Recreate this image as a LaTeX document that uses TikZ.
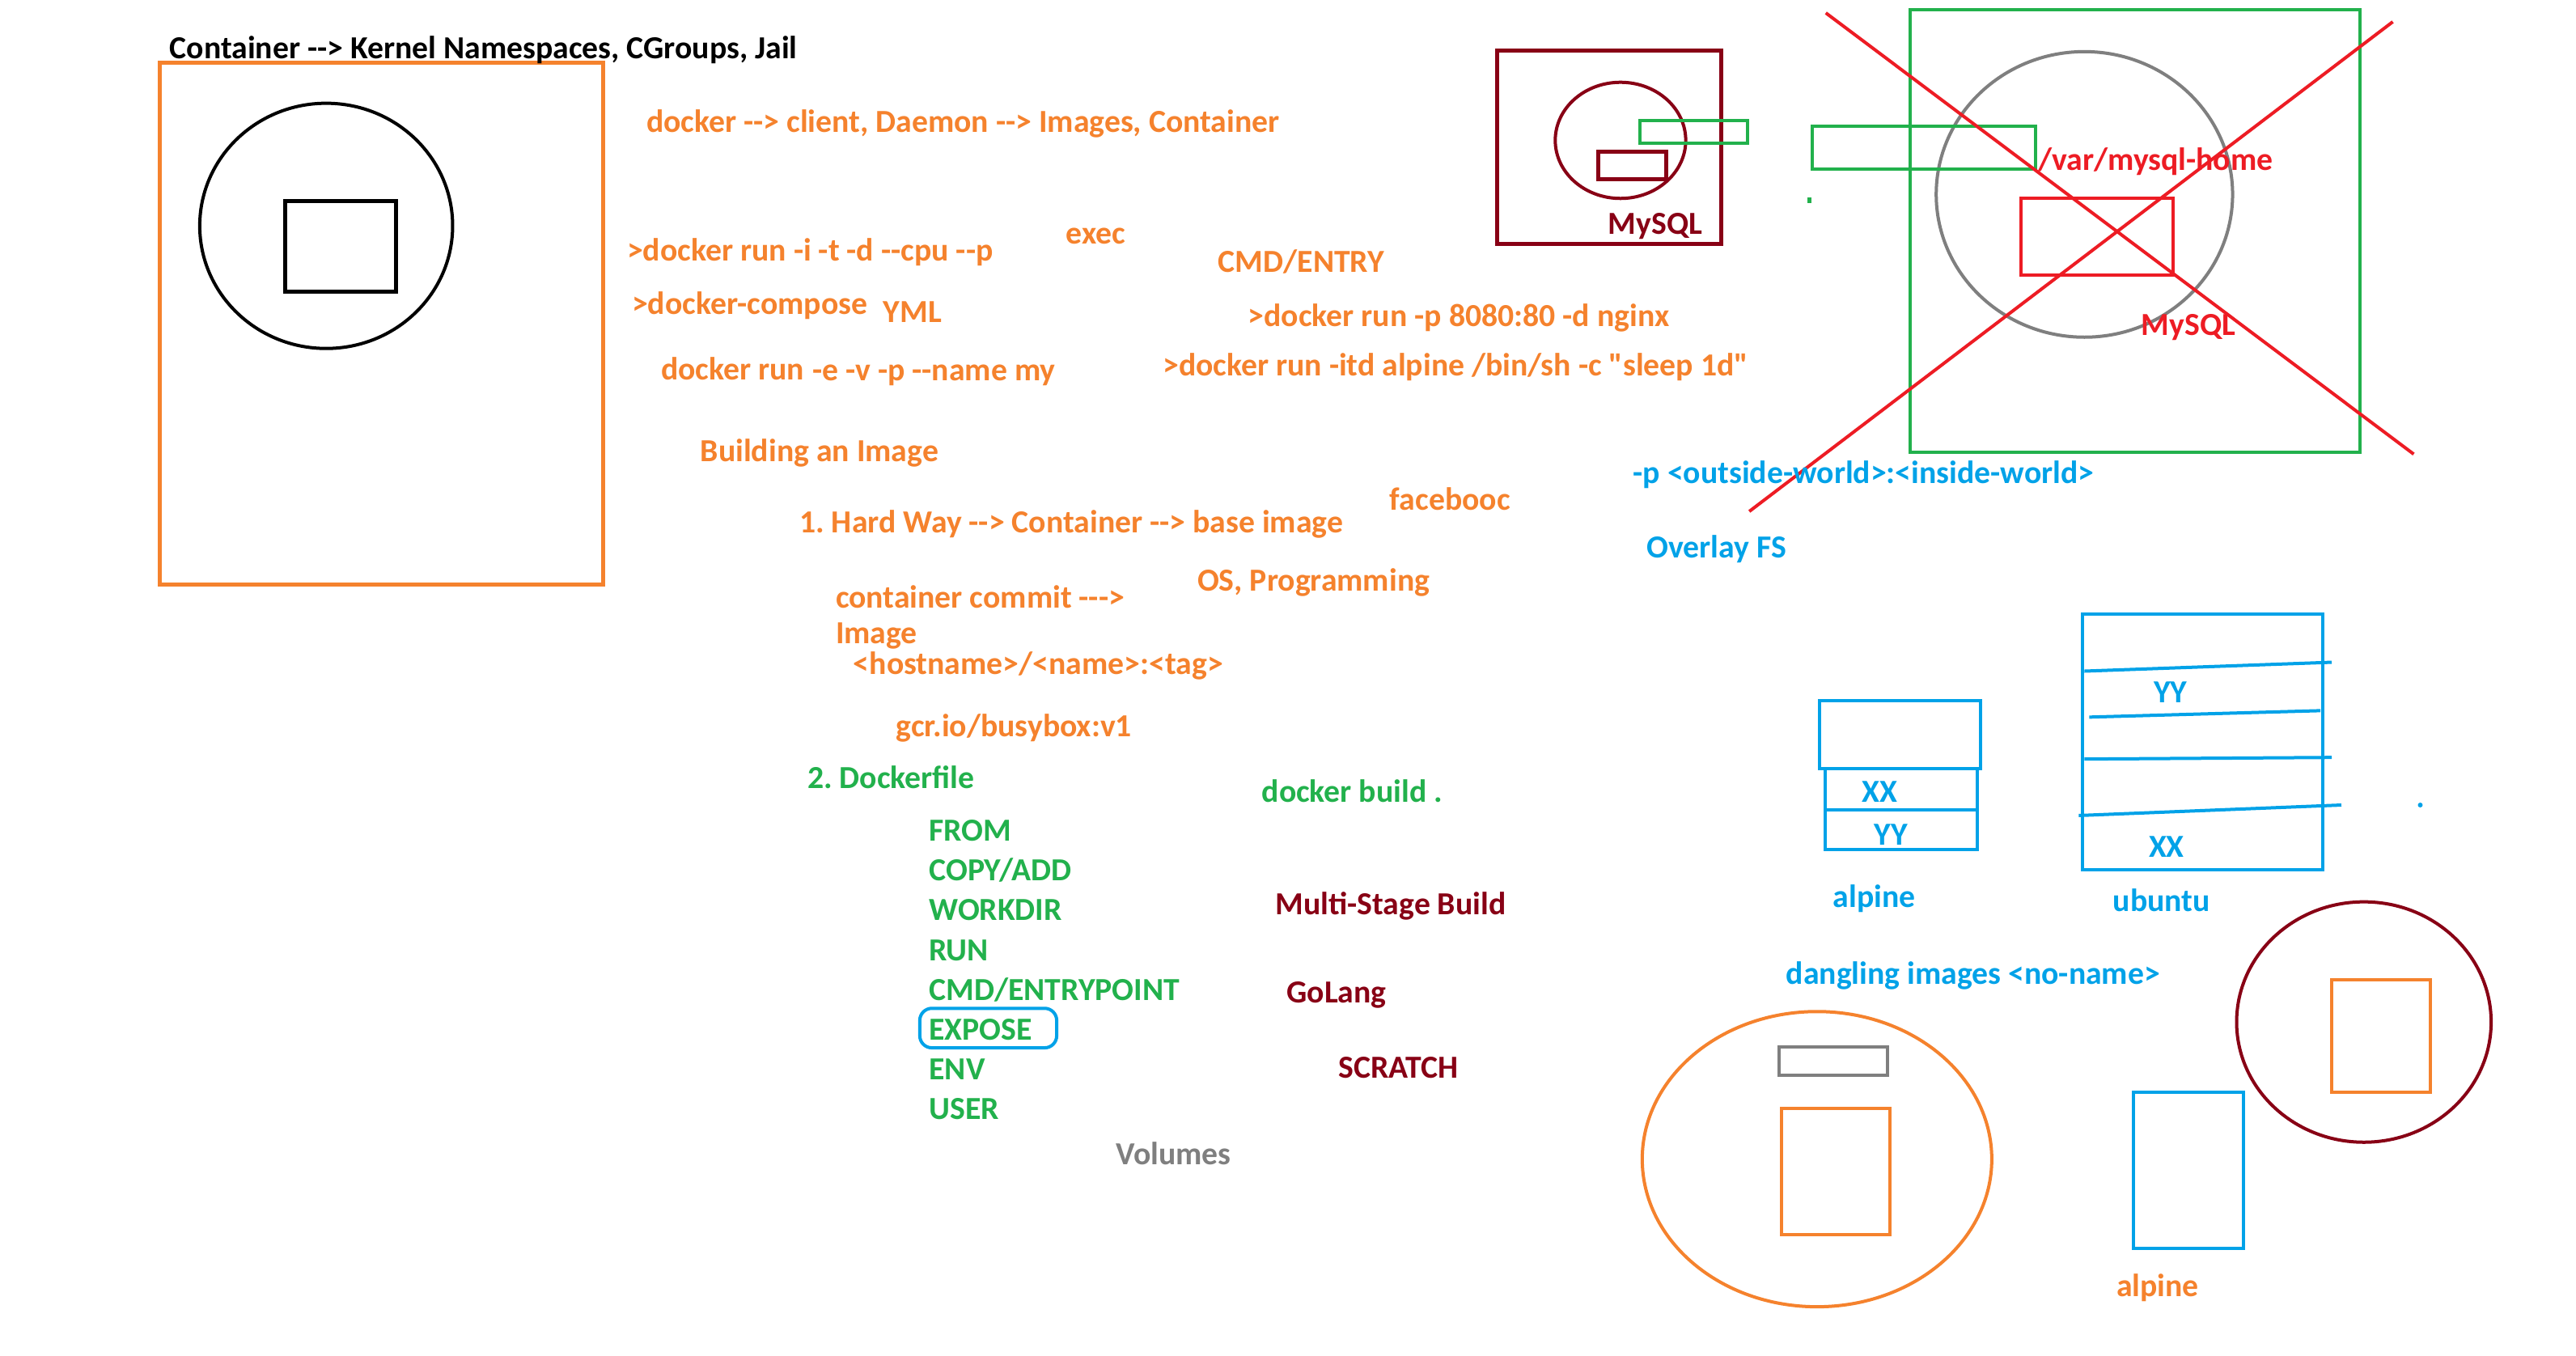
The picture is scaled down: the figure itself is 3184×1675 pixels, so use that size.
\documentclass[tikz,border=0pt]{standalone}
\usepackage{fontspec}
\setmainfont{Carlito}[Ligatures=TeXOff]
\frenchspacing
\definecolor{porange}{RGB}{245,130,45}
\definecolor{pgreen}{RGB}{34,177,76}
\definecolor{pblue}{RGB}{0,162,232}
\definecolor{pdred}{RGB}{136,0,21}
\definecolor{pred}{RGB}{237,28,36}
\definecolor{pgray}{RGB}{127,127,127}
\tikzset{
  txt/.style={anchor=west, inner sep=0pt, yshift=-0.25mm, font=\frenchspacing\bfseries\fontsize{11.3}{13}\selectfont},
  ctxt/.style={anchor=center, inner sep=0pt, yshift=-0.25mm, font=\frenchspacing\bfseries\fontsize{11.3}{13}\selectfont},
  shp/.style={line width=0.5mm},
  thin/.style={line width=0.4mm}
}
\begin{document}
\begin{tikzpicture}[x=0.1mm,y=-0.1mm]
\useasboundingbox[fill=white] (0,0) rectangle (3184,1675);
\begin{scope}[xscale=0.9955,yscale=0.997]
% ---- left: container sketch
\draw[shp,porange] (198,78) rectangle (749,725);
\draw[thin,black] (405,280) ellipse [x radius=157, y radius=152];
\draw[shp,black] (354,249) rectangle (492,362);
\node[txt,black] (title) at (210,59) {Container --> Kernel Namespaces, CGroups, Jail};

% ---- middle texts (orange)
\node[txt,porange] (tdock) at (802,151) {docker --> client, Daemon --> Images, Container};
\node[txt,porange] (trun) at (778,310) {>docker run -i -t -d --cpu --p};
\node[txt,porange] (texec) at (1323,290) {exec};
\node[txt,porange] (tcmd) at (1512,322) {CMD/ENTRY};
\node[txt,porange] (tcomp) at (784,376) {>docker-compose};
\node[txt,porange] (tyml) at (1096,384) {YML};
\node[txt,porange] (tnginx) at (1549,392) {>docker run -p 8080:80 -d nginx};
\node[txt,porange] (trunev) at (820,455) {docker run};
\node[txt,porange,anchor=west] (trunev2) at ([xshift=0.9mm,yshift=-0.5mm]trunev.east) {-e -v -p --name my};
\node[txt,porange] (tsleep) at (1443,453) {>docker run -itd alpine /bin/sh -c "sleep 1d"};
\node[txt,porange] (tbuild) at (869,559) {Building an Image};
\node[txt,porange] (tface) at (1725,616) {facebooc};
\node[txt,porange] (thard) at (992,647) {1. Hard Way --> Container --> base image};
\node[txt,porange] (tos) at (1486,720) {OS, Programming};
\node[txt,porange] (tcommit) at (1037,737) {container commit --->};
\node[txt,porange] (timage) at (1037,786) {Image};
\node[txt,porange] (thost) at (1059,823) {<hostname>/<name>:<tag>};
\node[txt,porange] (tgcr) at (1112,900) {gcr.io/busybox:v1};

% ---- dockerfile (green)
\node[txt,pgreen] (tdf) at (1002,961) {2. Dockerfile};
\node[txt,pgreen] (tdb) at (1566,978) {docker build .};
\node[txt,pgreen] (tfrom) at (1153,1027) {FROM};
\node[txt,pgreen] (tcopy) at (1153,1076) {COPY/ADD};
\node[txt,pgreen] (twork) at (1153,1125) {WORKDIR};
\node[txt,pgreen] (trunk) at (1153,1176) {RUN};
\node[txt,pgreen] (tcmdep) at (1153,1225) {CMD/ENTRYPOINT};
\node[txt,pgreen] (texpose) at (1153,1274) {EXPOSE};
\node[txt,pgreen] (tenv) at (1153,1323) {ENV};
\node[txt,pgreen] (tuser) at (1153,1372) {USER};
\draw[thin,pblue,rounded corners=1.5mm] (1142,1250) rectangle (1312,1299);

\node[txt,pdred] (tmulti) at (1583,1121) {Multi-Stage Build};
\node[txt,pdred] (tgo) at (1597,1231) {GoLang};
\node[txt,pdred] (tscr) at (1661,1321) {SCRATCH};
\node[txt,pgray] (tvol) at (1385,1427) {Volumes};

% ---- top right: MySQL container
\draw[shp,pdred] (1859,63) rectangle (2137,302);
\draw[thin,pdred] (2012,174) ellipse [x radius=81, y radius=72];
\draw[shp,pdred] (1984,188) rectangle (2069,222);
\draw[thin,pgreen] (2036,149) rectangle (2170,178);
\node[txt,pdred] (tmysql1) at (1996,278) {MySQL};

% ---- big crossed-out container
\draw[thin,pgreen] (2372,12) rectangle (2930,561);
\draw[thin,pgray] (2588,241) ellipse [x radius=184, y radius=177];
\draw[thin,pgreen] (2250,156) rectangle (2527,210);
\draw[thin,pred] (2509,246) rectangle (2698,341);
\node[txt,pred] (tvar) at (2530,198) {/var/mysql-home};
\node[txt,pred] (tmysql2) at (2658,403) {MySQL};
\coordinate (r1a) at (2267,16);
\coordinate (r1b) at (2997,563);
\coordinate (r2a) at (2971,27);
\coordinate (r2b) at (2172,634);
\draw[thin,pred] (r1a) -- (r1b);
\draw[thin,pred] (r2a) -- (r2b);
\fill[pgreen] (2244,245) rectangle (2249,252);

\node[txt,pblue] (tport) at (2027,586) {-p <outside-world>:<inside-world>};
\node[txt,pblue] (toverlay) at (2044,678) {Overlay FS};

% ---- image layers
\draw[thin,pblue] (2259,869) rectangle (2459,953);
\draw[thin,pblue] (2266,953) rectangle (2455,1004);
\draw[thin,pblue] (2266,1004) rectangle (2455,1053);
\node[ctxt,pblue] (txx1) at (2334,979) {XX};
\node[ctxt,pblue] (tyy1) at (2348,1032) {YY};
\node[ctxt,pblue] (talp1) at (2327,1112) {alpine};

\draw[thin,pblue] (2586,761) rectangle (2884,1078);
\draw[thin,pblue] (2588,832) -- (2895,821);
\draw[thin,pblue] (2594,889) -- (2881,881);
\draw[thin,pblue] (2588,941) -- (2895,939);
\draw[thin,pblue] (2581,1011) -- (2907,998);
\node[ctxt,pblue] (tyy2) at (2695,856) {YY};
\node[ctxt,pblue] (txx2) at (2690,1047) {XX};
\node[ctxt,pblue] (tubu) at (2684,1114) {ubuntu};
\fill[pblue] (3005,998) circle (3);

\node[txt,pblue] (tdang) at (2217,1207) {dangling images <no-name>};

% ---- bottom right
\draw[thin,porange] (2256,1437) ellipse [x radius=217, y radius=183];
\draw[thin,pgray] (2209,1298) rectangle (2344,1333);
\draw[thin,porange] (2212,1374) rectangle (2347,1531);
\draw[thin,pblue] (2649,1354) rectangle (2786,1548);
\node[ctxt,porange] (talp2) at (2679,1594) {alpine};
\draw[thin,pdred] (2935,1267) ellipse [x radius=158, y radius=149];
\draw[thin,porange] (2895,1215) rectangle (3018,1354);
\end{scope}
\end{tikzpicture}
\end{document}
